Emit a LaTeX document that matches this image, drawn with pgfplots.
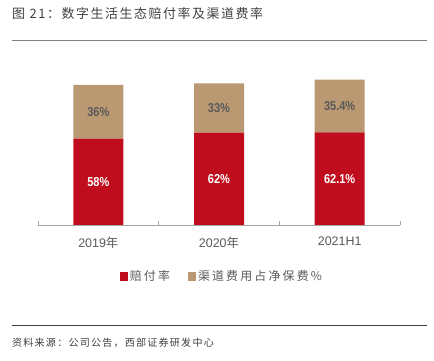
\documentclass[border=0pt]{standalone}
\usepackage{pgfplots}
\pgfplotsset{compat=1.18}
\usepackage{pgfplotstable}
\usepackage{fontspec}
\setmainfont{Liberation Sans}
\newfontfamily\cjk[LetterSpace=12]{Noto Sans CJK SC}
\newfontfamily\cjkleg[LetterSpace=18]{Noto Sans CJK SC}
\newfontfamily\cjkplain{Noto Sans CJK SC}
\newfontfamily\numfont[FakeStretch=0.85]{Liberation Sans}
\definecolor{barred}{RGB}{192,13,30}
\definecolor{bartan}{RGB}{186,152,114}
\definecolor{txtgray}{RGB}{89,89,89}
\definecolor{titlegray}{RGB}{64,64,64}
\definecolor{linegray}{RGB}{166,166,166}

\pgfplotstableread{
x y label
0 58 58\%
1 62 62\%
2 62.1 62.1\%
}\claims
\pgfplotstableread{
x y label
0 36 36\%
1 33 33\%
2 35.4 35.4\%
}\channel

\begin{document}
\begin{tikzpicture}
\path[use as bounding box] (0bp,0bp) rectangle (434bp,361bp);
\node[anchor=west, text=titlegray, font=\cjk\fontsize{13}{15}\selectfont, inner sep=0pt] at (12bp,347bp) {图 21：数字生活生态赔付率及渠道费率};
\draw[color={rgb,255:red,128;green,128;blue,128}, line width=0.9bp] (12bp,321bp) -- (427bp,321bp);
\draw[color={rgb,255:red,64;green,64;blue,64}, line width=0.9bp] (12bp,36bp) -- (427bp,36bp);
\node[anchor=west, text=titlegray, font=\cjk\fontsize{10.1}{12}\selectfont, inner sep=0pt] at (12bp,18bp) {资料来源：公司公告，西部证券研发中心};
\begin{axis}[
  at={(38bp,136bp)}, anchor=south west, scale only axis,
  width=362bp, height=149bp,
  xmin=-0.5, xmax=2.5, ymin=0, ymax=100,
  enlargelimits=false,
  ybar stacked, bar width=50bp,
  axis x line*=bottom, axis y line=none,
  axis line style={linegray, line width=0.9bp, -},
  xtick={0,1,2},
  xticklabels={2019{\cjkplain 年},2020{\cjkplain 年},2021H1},
  xticklabel style={text=txtgray, font=\fontsize{12.5}{14}\selectfont, yshift=-8bp},
  minor xtick={-0.5,0.5,1.5,2.5},
  major tick length=0pt, minor tick length=4bp, tick align=inside,
  minor tick style={linegray, line width=0.8bp},
  ytick=\empty,
  legend style={at={(0.508,-0.345)}, anchor=center, draw=none, fill=none,
    legend columns=2, font=\cjkleg\fontsize{12}{14}\selectfont, text=txtgray,
    /tikz/every even column/.append style={column sep=16bp}},
  legend image code/.code={\fill[#1] (0bp,-4.5bp) rectangle (8bp,4.5bp);},
  nodes near coords,
  point meta=explicit symbolic,
  every node near coord/.append style={anchor=center, font=\numfont\bfseries\fontsize{13}{15}\selectfont},
]
\addplot[fill=barred, draw=none, every node near coord/.append style={text=white}]
  table[x=x, y=y, meta=label] {\claims};
\addlegendentry{赔付率}
\addplot[fill=bartan, draw=none, every node near coord/.append style={text=txtgray}]
  table[x=x, y=y, meta=label] {\channel};
\addlegendentry{渠道费用占净保费\%}
\end{axis}
\end{tikzpicture}
\end{document}
